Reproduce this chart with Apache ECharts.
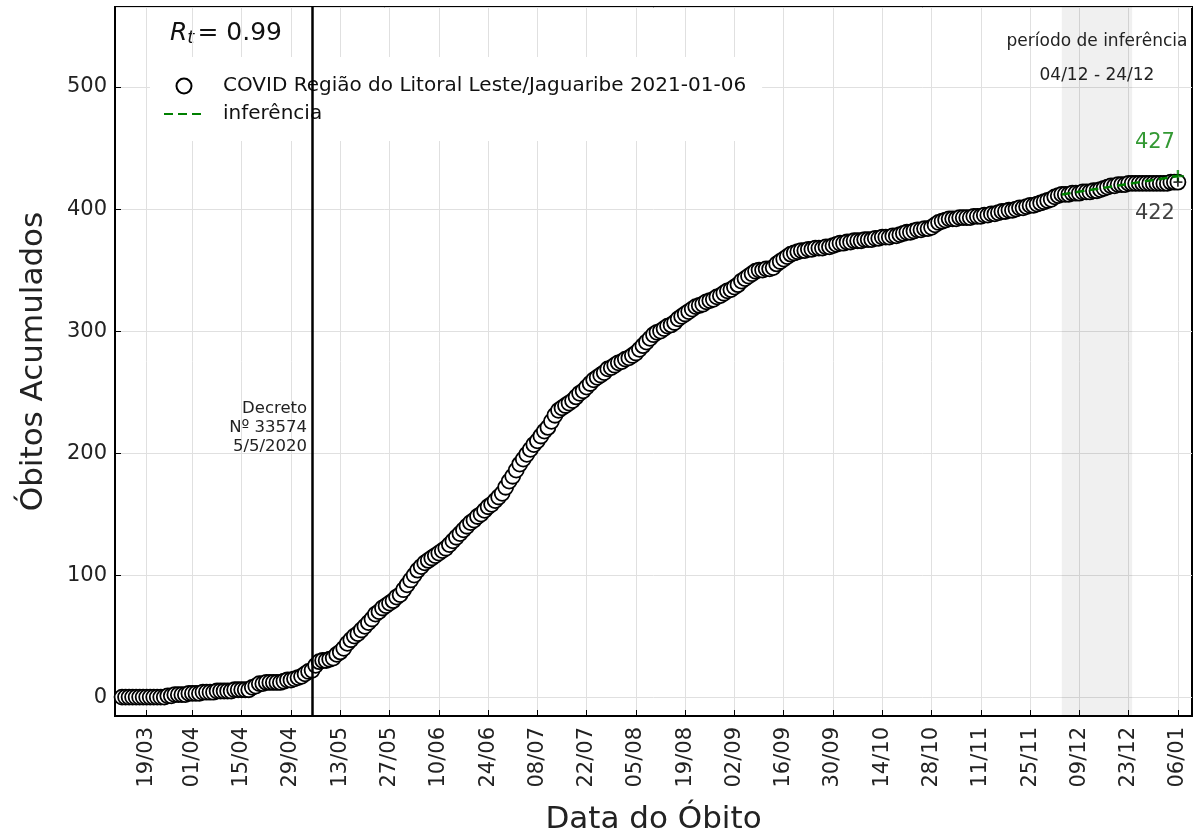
<!DOCTYPE html>
<html>
<head>
<meta charset="utf-8" />
<title>Óbitos Acumulados - Litoral Leste/Jaguaribe</title>
<script src="https://cdn.jsdelivr.net/npm/echarts@6/dist/echarts.min.js"></script>
<style>
  html, body { margin: 0; padding: 0; background: #fff; }
  #myChart { width: 1193px; height: 834px; }
</style>
</head>
<body>
<div id="myChart"></div>
<script type="text/javascript">
// eixo x: dias de 10/03/2020 a 10/01/2021
var axisStart = '2020-03-10';
var axisEnd = '2021-01-10';
// primeiro dia com dado
var dataStart = '2020-03-12';
// óbitos acumulados por dia (12/03/2020 ... 06/01/2021)
var obitosMar = [0,0,0,0,0,0,0,0,0,0,0,0,0,1,1,2,2,2,2,3];
var obitosAbr = [3,3,3,4,4,4,4,5,5,5,5,5,6,6,6,6,6,8,9,11,11,12,12,12,12,12,13,14,14,15];
var obitosMai = [16,17,19,21,22,26,29,30,30,31,32,35,37,40,44,47,50,52,55,58,61,64,68,70,73,75,77,79,82,84,88];
var obitosJun = [92,96,100,104,107,110,112,114,116,118,120,122,125,128,131,134,137,140,143,145,148,150,153,156,158,161,164,167,172,177];
var obitosJul = [181,186,191,195,199,203,207,210,214,218,221,226,231,235,237,239,241,243,246,249,251,254,257,260,262,264,266,269,270,272,274];
var obitosAgo = [275,277,278,280,282,285,288,291,294,297,299,300,302,304,305,307,310,312,314,316,318,320,321,322,324,325,326,328,329,331,333];
var obitosSet = [334,336,338,341,343,345,347,349,350,350,351,351,352,355,357,359,361,363,364,365,366,366,367,367,368,368,368,369,369,370];
var obitosOut = [371,372,372,373,373,374,374,374,375,375,375,376,376,377,377,377,378,378,379,380,381,381,382,383,383,384,384,385,387,389,390];
var obitosNov = [391,392,392,392,393,393,393,393,394,394,394,395,395,396,396,397,398,398,399,399,400,401,401,402,403,403,404,405,406,407];
var obitosDez = [408,410,411,412,412,412,413,413,413,414,414,414,415,415,416,417,418,419,419,420,420,420,421,421,421,421,421,421,421,421,421];
var obitosJan = [421,421,421,422,422,422];

// inferência (início e fim)
var inferDates = ['2020-12-04', '2021-01-06'];
var inferValues = [412, 427];
var inferPeriod = ['2020-12-04', '2020-12-24'];
var decretoDate = '2020-05-05';
var rt = '0.99';

var tickDates = ['2020-03-19','2020-04-01','2020-04-15','2020-04-29','2020-05-13','2020-05-27',
  '2020-06-10','2020-06-24','2020-07-08','2020-07-22','2020-08-05','2020-08-19','2020-09-02',
  '2020-09-16','2020-09-30','2020-10-14','2020-10-28','2020-11-11','2020-11-25','2020-12-09',
  '2020-12-23','2021-01-06'];

function isoDay(d) {
    return d.toISOString().slice(0, 10);
}
function addDays(s, n) {
    var d = new Date(s + 'T00:00:00Z');
    d.setUTCDate(d.getUTCDate() + n);
    return isoDay(d);
}

var days = [];
for (var s = axisStart; s <= axisEnd; s = addDays(s, 1)) days.push(s);

var obitos = [].concat(obitosMar, obitosAbr, obitosMai, obitosJun, obitosJul, obitosAgo,
    obitosSet, obitosOut, obitosNov, obitosDez, obitosJan);
var pontos = obitos.map(function (v, i) { return [addDays(dataStart, i), v]; });
var ultimo = pontos[pontos.length - 1];

var isTick = function (idx, val) { return tickDates.indexOf(val) >= 0; };
var plus = 'path://M4,0 H6 V4 H10 V6 H6 V10 H4 V6 H0 V4 H4 Z';
var fonte = 'DejaVu Sans';
var legendaDados = 'COVID Região do Litoral Leste/Jaguaribe 2021-01-06';

option = {
    animation: false,
    backgroundColor: '#fff',
    textStyle: { fontFamily: fonte },
    grid: {
        left: 115, right: 1, top: 7, bottom: 118,
        outerBoundsMode: 'none',
        containLabel: false,
        show: true, borderColor: '#000', borderWidth: 2
    },
    legend: {
        orient: 'vertical',
        left: 150, top: 57,
        padding: [19, 16, 17, 13],
        backgroundColor: '#fff',
        itemWidth: 40, itemHeight: 15, itemGap: 8,
        textStyle: { fontSize: 20, color: '#111', padding: [0, 0, 0, 14], fontFamily: fonte },
        data: [
            { name: legendaDados },
            { name: 'inferência', itemStyle: { opacity: 0 } }
        ]
    },
    xAxis: {
        type: 'category',
        data: days,
        boundaryGap: false,
        name: 'Data do Óbito',
        nameLocation: 'middle',
        nameGap: 88,
        nameTextStyle: { fontSize: 31, color: '#222' },
        axisLine: { onZero: false, lineStyle: { color: '#000', width: 2 } },
        axisTick: { inside: true, length: 6, interval: isTick, lineStyle: { color: '#000' } },
        axisLabel: {
            interval: isTick, rotate: 90, fontSize: 21, color: '#222', margin: 11,
            formatter: function (v) { return v.slice(8, 10) + '/' + v.slice(5, 7); }
        },
        splitLine: { show: true, interval: isTick, lineStyle: { color: '#e0e0e0', width: 1 } }
    },
    yAxis: {
        type: 'value',
        min: -15.5, max: 565.6,
        splitNumber: 6,
        name: 'Óbitos Acumulados',
        nameLocation: 'middle',
        nameGap: 66,
        nameTextStyle: { fontSize: 31, color: '#222' },
        axisLine: { show: true, lineStyle: { color: '#000', width: 2 } },
        axisTick: { show: true, inside: true, length: 6, lineStyle: { color: '#000' } },
        axisLabel: { fontSize: 21, color: '#222', margin: 8, showMinLabel: false, showMaxLabel: false },
        splitLine: { lineStyle: { color: '#e0e0e0', width: 1 } }
    },
    graphic: [{
        type: 'text',
        left: 170, top: 21,
        style: {
            text: '{i|R}{s|t}{n|= ' + rt + '}',
            rich: {
                i: { fontSize: 25, fontStyle: 'italic', fill: '#111', fontFamily: fonte },
                s: { fontSize: 18, fontStyle: 'italic', fill: '#111', verticalAlign: 'bottom', padding: [10, 3, 0, 0], fontFamily: fonte },
                n: { fontSize: 25, fill: '#111', fontFamily: fonte }
            }
        }
    }],
    series: [
        {
            name: legendaDados,
            type: 'scatter',
            data: pontos,
            symbol: 'circle',
            symbolSize: 15,
            itemStyle: { color: '#fff', borderColor: '#000', borderWidth: 1.8, opacity: 1 },
            markArea: {
                silent: true,
                itemStyle: { color: 'rgba(0,0,0,0.06)' },
                label: {
                    show: true, position: 'insideTop', distance: 18,
                    fontSize: 17, color: '#222', lineHeight: 34, fontFamily: fonte,
                    formatter: 'período de inferência\n04/12 - 24/12'
                },
                data: [[{ xAxis: inferPeriod[0] }, { xAxis: inferPeriod[1] }]]
            },
            markLine: {
                silent: true,
                symbol: 'none',
                lineStyle: { color: '#000', width: 2.5, type: 'solid' },
                label: { show: false },
                data: [{ xAxis: decretoDate }]
            },
            markPoint: {
                silent: true,
                symbol: 'circle', symbolSize: 0,
                label: {
                    show: true, position: 'left', distance: 5, align: 'right',
                    fontSize: 16.5, lineHeight: 19, color: '#222', fontFamily: fonte,
                    formatter: 'Decreto\nNº 33574\n5/5/2020'
                },
                data: [{ coord: [decretoDate, 221] }]
            }
        },
        {
            name: 'inferência',
            type: 'line',
            data: [[inferDates[0], inferValues[0]], [inferDates[1], inferValues[1]]],
            symbol: 'none',
            showSymbol: false,
            lineStyle: { color: '#008000', width: 2.5, type: [9, 5] },
            itemStyle: { color: '#008000' },
            z: 4
        },
        {
            name: 'fim inferência',
            type: 'scatter',
            data: [[inferDates[1], inferValues[1]]],
            symbol: plus, symbolSize: 12,
            itemStyle: { color: '#008000' },
            label: {
                show: true, position: 'top', offset: [-23, -12],
                fontSize: 21, color: '#008000', fontFamily: fonte,
                formatter: function (p) { return p.value[1]; }
            },
            z: 5
        },
        {
            name: 'último',
            type: 'scatter',
            data: [ultimo],
            symbol: plus, symbolSize: 9,
            itemStyle: { color: '#000' },
            label: {
                show: true, position: 'bottom', offset: [-23, 11],
                fontSize: 21, color: '#111', fontFamily: fonte,
                formatter: function (p) { return p.value[1]; }
            },
            z: 5
        }
    ]
};

var myChart = echarts.init(document.getElementById('myChart'));
myChart.setOption(option);
</script>
</body>
</html>
